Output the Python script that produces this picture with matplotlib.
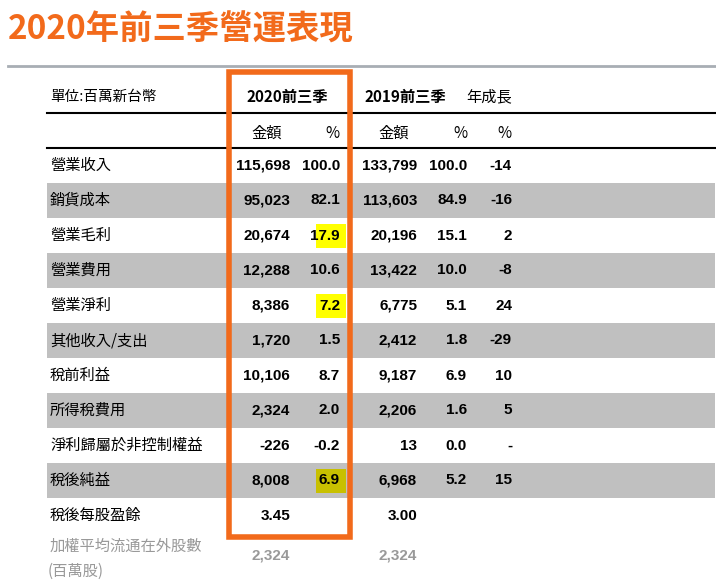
import matplotlib
matplotlib.use("Agg")
import matplotlib.pyplot as plt
from matplotlib.patches import Rectangle

W, H = 716, 588
title = "2020年前三季營運表現"
unit = "單位:百萬新台幣"
col_groups = ["2020前三季", "2019前三季", "年成長"]
sub_heads = ["金額", "%", "金額", "%", "%"]
items = ["營業收入", "銷貨成本", "營業毛利", "營業費用", "營業淨利", "其他收入/支出",
         "稅前利益", "所得稅費用", "淨利歸屬於非控制權益", "稅後純益", "稅後每股盈餘"]
amt_2020 = ["115,698", "95,023", "20,674", "12,288", "8,386", "1,720", "10,106", "2,324", "-226", "8,008", "3.45"]
pct_2020 = ["100.0", "82.1", "17.9", "10.6", "7.2", "1.5", "8.7", "2.0", "-0.2", "6.9", ""]
amt_2019 = ["133,799", "113,603", "20,196", "13,422", "6,775", "2,412", "9,187", "2,206", "13", "6,968", "3.00"]
pct_2019 = ["100.0", "84.9", "15.1", "10.0", "5.1", "1.8", "6.9", "1.6", "0.0", "5.2", ""]
growth = ["-14", "-16", "2", "-8", "24", "-29", "10", "5", "-", "15", ""]
shares_label = ["加權平均流通在外股數", "(百萬股)"]
shares = ["2,324", "2,324"]
highlight_rows = [2, 4, 9]

fig = plt.figure(figsize=(W/100, H/100), dpi=100)
ax = fig.add_axes([0, 0, 1, 1])
ax.set_xlim(0, W); ax.set_ylim(H, 0); ax.axis("off")

CJK = ["Noto Sans CJK TC", "Noto Sans CJK JP", "Noto Sans CJK SC", "DejaVu Sans"]
NUM = ["Liberation Sans Narrow", "Liberation Sans"]
ORANGE = "#F26A1B"

def sp(s):
    return " ".join(s)

ax.text(8, 30, title, fontsize=24, fontweight="bold", color=ORANGE, family=CJK, va="center", ha="left")
ax.plot([8, 716], [66, 66], color="#A8AEB4", lw=2)

x0, x1 = 47, 715
ax.text(50, 97, unit, fontsize=10.5, family=CJK, style="italic", va="center")
ax.text(287, 97, col_groups[0], fontsize=11, family=CJK, fontweight="bold", va="center", ha="center")
ax.text(405, 97, col_groups[1], fontsize=11, family=CJK, fontweight="bold", va="center", ha="center")
ax.text(512, 97, col_groups[2], fontsize=11, family=CJK, va="center", ha="right")
ax.plot([x0, x1], [113, 113], color="black", lw=1.5)
ax.plot([x0, x1], [148, 148], color="black", lw=1.5)

col_x = [290, 340, 417, 467, 512]
for i, h in enumerate(sub_heads):
    ax.text(col_x[i] if h == "%" else col_x[i] - 8, 133, h, fontsize=11, family=CJK,
            va="center", ha="right")

rh = 35
for i, lab in enumerate(items):
    top = 148 + rh * i
    cy = top + rh / 2
    if i % 2 == 1:
        ax.add_patch(Rectangle((x0, top), x1 - x0, rh, color="#C0C0C0", lw=0, zorder=0))
    if i in highlight_rows:
        c = "#C8C000" if i % 2 == 1 else "#FFFF00"
        ax.add_patch(Rectangle((316, cy - 12), 30, 24, color=c, lw=0, zorder=1))
    ax.text(50, cy, lab, fontsize=11, family=CJK, va="center")
    for j, v in enumerate([amt_2020[i], pct_2020[i], amt_2019[i], pct_2019[i], growth[i]]):
        ax.text(col_x[j], cy, v, fontsize=11, family=NUM, fontweight="bold", va="center", ha="right", zorder=2)

cy = 148 + rh * 11 + 22
ax.text(50, cy - 9, shares_label[0], fontsize=11, family=CJK, color="#999999", va="center")
ax.text(48, cy + 16, shares_label[1], fontsize=11, family=CJK, color="#999999", va="center")
ax.text(col_x[0], cy, shares[0], fontsize=11, family=NUM, fontweight="bold", color="#999999", va="center", ha="right")
ax.text(col_x[2], cy, shares[1], fontsize=11, family=NUM, fontweight="bold", color="#999999", va="center", ha="right")

ax.add_patch(Rectangle((229, 72), 121, 465, fill=False, edgecolor=ORANGE, lw=4, zorder=3))

fig.savefig("out.png", dpi=100)
